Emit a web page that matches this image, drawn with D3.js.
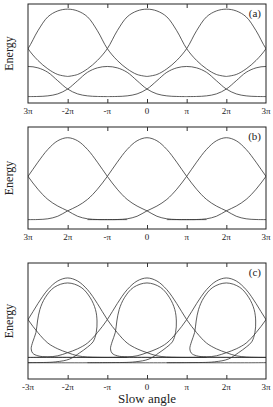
<!DOCTYPE html>
<html>
<head>
<meta charset="utf-8">
<script src="https://cdn.jsdelivr.net/npm/d3@7"></script>
<style>
  body { margin: 0; background: #fff; }
  svg { display: block; }
  text { font-family: "Liberation Serif", "DejaVu Serif", serif; fill: #222; }
</style>
</head>
<body>
<div id="chart-area"></div>
<script>
// slow angle in units of pi, energy as a fraction of each panel's range
let tickPos = [-3, -2, -1, 0, 1, 2, 3];
let tickLabelsA = ["3\u03c0", "-2\u03c0", "-\u03c0", "0", "\u03c0", "2\u03c0", "3\u03c0"];
let tickLabelsB = ["3\u03c0", "2\u03c0", "-\u03c0", "0", "\u03c0", "2\u03c0", "3\u03c0"];
let tickLabelsC = ["-3\u03c0", "-2\u03c0", "-\u03c0", "0", "\u03c0", "2\u03c0", "3\u03c0"];

// (a) upper pair: peaks at even multiples of pi
let upperCentersA = [-4, -2, 0, 2, 4];
let upperProfileA = [[0, 0.948], [0.25, 0.93], [0.5, 0.87], [0.75, 0.73], [1, 0.549],
  [1.25, 0.43], [1.5, 0.345], [1.75, 0.288], [2, 0.268]];
// (a) lower pair: peaks at odd multiples of pi
let lowerCentersA = [-5, -3, -1, 1, 3, 5];
let lowerProfileA = [[0, 0.369], [0.25, 0.355], [0.5, 0.31], [0.75, 0.225], [1, 0.141],
  [1.25, 0.092], [1.5, 0.072], [1.75, 0.066], [2, 0.065]];

// (b) single bells
let centersB = [-4, -2, 0, 2, 4];
let profileB = [[0, 0.895], [0.25, 0.865], [0.5, 0.78], [0.75, 0.655], [1, 0.516],
  [1.25, 0.39], [1.5, 0.29], [1.75, 0.225], [2, 0.178], [2.25, 0.125], [2.5, 0.1],
  [2.75, 0.093], [3, 0.092], [3.5, 0.092]];

// (c) outer bells and inner loops (loop path runs from the right tail to the left tail)
let centersC = [-4, -2, 0, 2, 4];
let outerProfileC = [[0, 0.871], [0.25, 0.845], [0.5, 0.77], [0.75, 0.65], [1, 0.512],
  [1.25, 0.4], [1.5, 0.31], [1.75, 0.26], [2, 0.227], [2.25, 0.2], [2.5, 0.19],
  [2.75, 0.187], [3, 0.186], [3.5, 0.186]];
let innerPathC = [[3.5, 0.186], [1, 0.186], [0, 0.187], [-0.5, 0.19], [-0.75, 0.2],
  [-0.88, 0.222], [-0.92, 0.26], [-0.88, 0.32], [-0.8, 0.4], [-0.76, 0.5], [-0.7, 0.6],
  [-0.57, 0.7], [-0.34, 0.79], [0, 0.828], [0.34, 0.79], [0.57, 0.7], [0.7, 0.6],
  [0.74, 0.5], [0.72, 0.4], [0.64, 0.32], [0.5, 0.275], [0.3, 0.225], [0.05, 0.172],
  [-0.3, 0.148], [-1, 0.141], [-3.5, 0.141]];

let W = 273, H = 407;
let left = 28, right = 266;
let panels = [
  { id: "a", top: 4, bottom: 103, labels: tickLabelsA },
  { id: "b", top: 127, bottom: 229, labels: tickLabelsB },
  { id: "c", top: 263, bottom: 379, labels: tickLabelsC }
];

let svg = d3.select("#chart-area").append("svg")
  .attr("width", W).attr("height", H);

let xScale = d3.scaleLinear().domain([-3, 3]).range([left, right]);

function mirror(profile) {
  let back = profile.slice(1).map(function(p) { return [-p[0], p[1]]; }).reverse();
  return back.concat(profile);
}

panels.forEach(function(p) {
  let yScale = d3.scaleLinear().domain([0, 1]).range([p.bottom, p.top]);
  let g = svg.append("g");

  g.append("clipPath").attr("id", "clip-" + p.id)
    .append("rect").attr("x", left).attr("y", p.top)
    .attr("width", right - left).attr("height", p.bottom - p.top);

  let line = d3.line()
    .x(function(d) { return xScale(d[0]); })
    .y(function(d) { return yScale(d[1]); })
    .curve(d3.curveCatmullRom.alpha(0.5));

  let curves = [];
  if (p.id === "a") {
    upperCentersA.forEach(function(c) {
      curves.push(mirror(upperProfileA).map(function(d) { return [c + d[0], d[1]]; }));
    });
    lowerCentersA.forEach(function(c) {
      curves.push(mirror(lowerProfileA).map(function(d) { return [c + d[0], d[1]]; }));
    });
  } else if (p.id === "b") {
    centersB.forEach(function(c) {
      curves.push(mirror(profileB).map(function(d) { return [c + d[0], d[1]]; }));
    });
  } else {
    centersC.forEach(function(c) {
      curves.push(mirror(outerProfileC).map(function(d) { return [c + d[0], d[1]]; }));
      curves.push(innerPathC.map(function(d) { return [c + d[0], d[1]]; }));
    });
  }

  g.append("g").attr("clip-path", "url(#clip-" + p.id + ")")
    .selectAll("path").data(curves).enter().append("path")
    .attr("d", line)
    .attr("fill", "none")
    .attr("stroke", "#333")
    .attr("stroke-width", 0.8);

  // frame
  g.append("rect").attr("x", left).attr("y", p.top)
    .attr("width", right - left).attr("height", p.bottom - p.top)
    .attr("fill", "none").attr("stroke", "#222").attr("stroke-width", 1);

  // inward ticks top and bottom
  let bottomAxis = d3.axisBottom(xScale).tickValues(tickPos.slice(1, -1))
    .tickSize(-4).tickFormat("");
  let topAxis = d3.axisTop(xScale).tickValues(tickPos.slice(1, -1))
    .tickSize(-4).tickFormat("");
  g.append("g").attr("transform", "translate(0," + p.bottom + ")").call(bottomAxis)
    .call(function(s) { s.select(".domain").remove(); s.selectAll("line").attr("stroke", "#333"); });
  g.append("g").attr("transform", "translate(0," + p.top + ")").call(topAxis)
    .call(function(s) { s.select(".domain").remove(); s.selectAll("line").attr("stroke", "#333"); });

  // tick labels
  g.selectAll("text.tl").data(tickPos).enter().append("text")
    .attr("class", "tl")
    .attr("x", function(d) { return xScale(d); })
    .attr("y", p.bottom + 11)
    .attr("text-anchor", "middle")
    .attr("font-size", 9)
    .text(function(d, i) { return p.labels[i]; });

  // panel letter
  g.append("text").attr("x", right - 5).attr("y", p.top + 13)
    .attr("text-anchor", "end").attr("font-size", 11)
    .text("(" + p.id + ")");

  // y label
  g.append("text")
    .attr("transform", "translate(13," + ((p.top + p.bottom) / 2) + ") rotate(-90)")
    .attr("text-anchor", "middle").attr("font-size", 12)
    .text("Energy");
});

svg.append("text").attr("x", (left + right) / 2).attr("y", 403)
  .attr("text-anchor", "middle").attr("font-size", 13)
  .text("Slow angle");
</script>
</body>
</html>
